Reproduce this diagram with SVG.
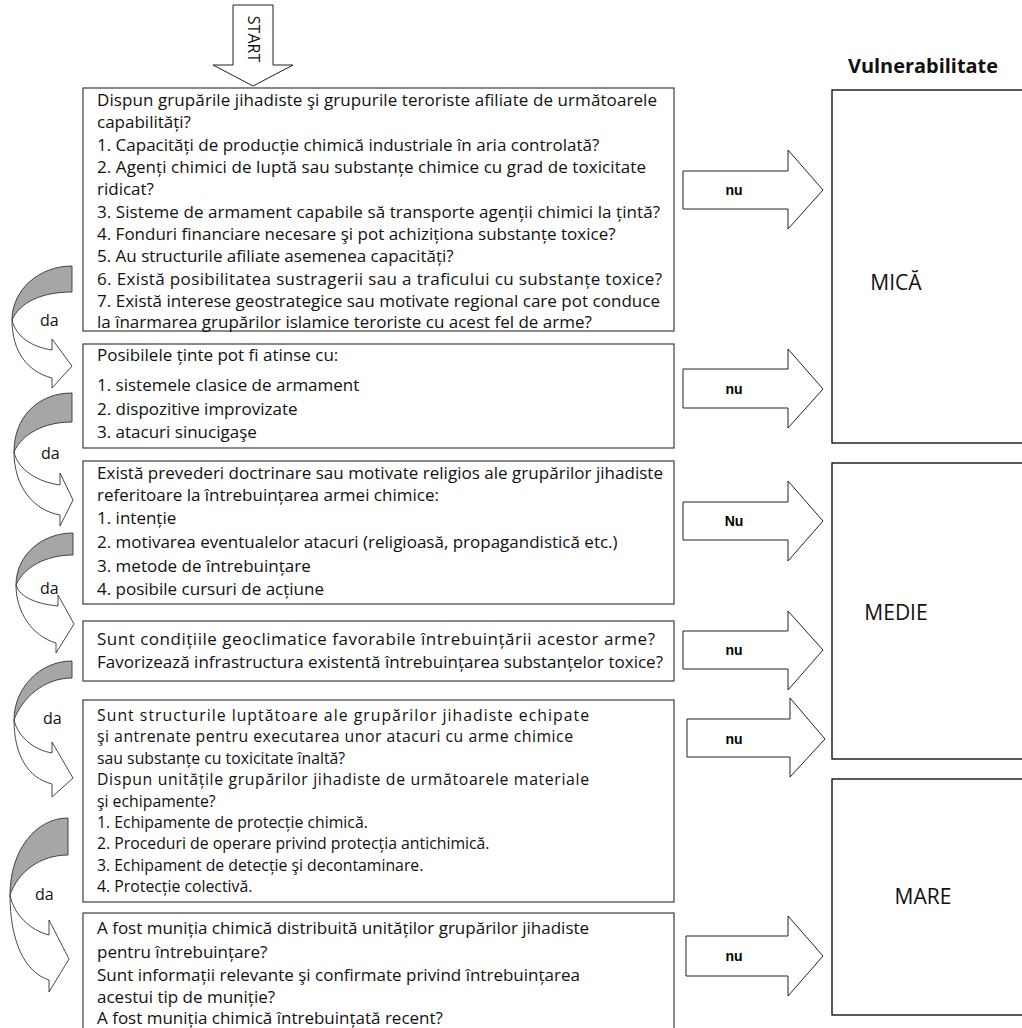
<svg xmlns="http://www.w3.org/2000/svg" width="1022" height="1028" viewBox="0 0 1022 1028">
<style>
.box{fill:#fff;stroke:#3c3c3c;stroke-width:1.2}
.vbox{fill:#fff;stroke:#000;stroke-width:1.3}
.t{font-family:"Open Sans","Noto Sans",sans-serif;font-size:17px;fill:#111}
.s{font-size:15.8px}
.da{font-family:"Open Sans","Noto Sans",sans-serif;font-size:16px;fill:#111}
.big{font-family:"Open Sans","Noto Sans",sans-serif;font-size:21px;fill:#111;text-anchor:middle}
.hdr{font-family:"Open Sans","Noto Sans",sans-serif;font-size:19px;font-weight:bold;fill:#111}
.blk{fill:#fff;stroke:#222;stroke-width:1}
.nu{font-family:"Liberation Sans",Arial,sans-serif;font-size:14px;font-weight:bold;fill:#000;text-anchor:middle}
.back{fill:#a6a6a6;stroke:#333;stroke-width:0.9}
.front{fill:#fff;stroke:#333;stroke-width:0.9}
</style>
<rect width="1022" height="1028" fill="#fff"/>

<g id="title"><text class="hdr" x="848" y="73" textLength="150" lengthAdjust="spacingAndGlyphs">Vulnerabilitate</text></g>

<g id="start">
<polygon class="blk" points="233,5 273,5 273,65 293,65 253,86 213,65 233,65"/>
<text class="da" transform="translate(248,39) rotate(90)" text-anchor="middle">START</text>
</g>

<g id="mica"><rect class="vbox" x="832" y="90" width="200" height="353"/><text class="big" x="896" y="290">MICĂ</text></g>
<g id="medie"><rect class="vbox" x="832" y="463" width="200" height="296"/><text class="big" x="896" y="620">MEDIE</text></g>
<g id="mare"><rect class="vbox" x="832" y="779" width="200" height="236"/><text class="big" x="923" y="904">MARE</text></g>

<g id="q1">
<rect class="box" x="83" y="88" width="591" height="243"/>
<text class="t" x="97" y="106" textLength="560" lengthAdjust="spacing">Dispun grupările jihadiste şi grupurile teroriste afiliate de următoarele</text>
<text class="t" x="97" y="128">capabilități?</text>
<text class="t" x="97" y="151">1. Capacități de producție chimică industriale în aria controlată?</text>
<text class="t" x="97" y="173" textLength="549" lengthAdjust="spacing">2. Agenți chimici de luptă sau substanțe chimice cu grad de toxicitate</text>
<text class="t" x="97" y="195">ridicat?</text>
<text class="t" x="97" y="218" textLength="563" lengthAdjust="spacing">3. Sisteme de armament capabile să transporte agenții chimici la țintă?</text>
<text class="t" x="97" y="240">4. Fonduri financiare necesare şi pot achiziționa substanțe toxice?</text>
<text class="t" x="97" y="262">5. Au structurile afiliate asemenea capacități?</text>
<text class="t" x="97" y="285" textLength="565" lengthAdjust="spacing">6. Există posibilitatea sustragerii sau a traficului cu substanțe toxice?</text>
<text class="t" x="97" y="307" textLength="563" lengthAdjust="spacing">7. Există interese geostrategice sau motivate regional care pot conduce</text>
<text class="t" x="97" y="328">la înarmarea grupărilor islamice teroriste cu acest fel de arme?</text>
</g>

<g id="q2">
<rect class="box" x="83" y="344" width="591" height="104"/>
<text class="t" x="97" y="361">Posibilele ținte pot fi atinse cu:</text>
<text class="t" x="97" y="391">1. sistemele clasice de armament</text>
<text class="t" x="97" y="415">2. dispozitive improvizate</text>
<text class="t" x="97" y="438">3. atacuri sinucigaşe</text>
</g>

<g id="q3">
<rect class="box" x="83" y="461" width="591" height="143"/>
<text class="t" x="97" y="479" textLength="566" lengthAdjust="spacing">Există prevederi doctrinare sau motivate religios ale grupărilor jihadiste</text>
<text class="t" x="97" y="501">referitoare la întrebuințarea armei chimice:</text>
<text class="t" x="97" y="524">1. intenție</text>
<text class="t" x="97" y="548">2. motivarea eventualelor atacuri (religioasă, propagandistică etc.)</text>
<text class="t" x="97" y="572">3. metode de întrebuințare</text>
<text class="t" x="97" y="595">4. posibile cursuri de acțiune</text>
</g>

<g id="q4">
<rect class="box" x="83" y="621" width="591" height="60"/>
<text class="t" x="97" y="645" textLength="558" lengthAdjust="spacing">Sunt condițiile geoclimatice favorabile întrebuințării acestor arme?</text>
<text class="t" x="97" y="668" textLength="566" lengthAdjust="spacing">Favorizează infrastructura existentă întrebuințarea substanțelor toxice?</text>
</g>

<g id="q5">
<rect class="box" x="83" y="700" width="591" height="202"/>
<text class="t s" x="97" y="721" textLength="492" lengthAdjust="spacing">Sunt structurile luptătoare ale grupărilor jihadiste echipate</text>
<text class="t s" x="97" y="742.4" textLength="476" lengthAdjust="spacing">şi antrenate pentru executarea unor atacuri cu arme chimice</text>
<text class="t s" x="97" y="763.8">sau substanțe cu toxicitate înaltă?</text>
<text class="t s" x="97" y="785.2" textLength="492" lengthAdjust="spacing">Dispun unitățile grupărilor jihadiste de următoarele materiale</text>
<text class="t s" x="97" y="806.6">şi echipamente?</text>
<text class="t s" x="97" y="828">1. Echipamente de protecție chimică.</text>
<text class="t s" x="97" y="849.4">2. Proceduri de operare privind protecția antichimică.</text>
<text class="t s" x="97" y="870.8">3. Echipament de detecție şi decontaminare.</text>
<text class="t s" x="97" y="892.2">4. Protecție colectivă.</text>
</g>

<g id="q6">
<rect class="box" x="83" y="913" width="591" height="130"/>
<text class="t" x="97" y="934">A fost muniția chimică distribuită unităților grupărilor jihadiste</text>
<text class="t" x="97" y="958">pentru întrebuințare?</text>
<text class="t" x="97" y="981">Sunt informații relevante şi confirmate privind întrebuințarea</text>
<text class="t" x="97" y="1003">acestui tip de muniție?</text>
<text class="t" x="97" y="1024">A fost muniția chimică întrebuințată recent?</text>
</g>

<g id="connectors">
<g id="no-arrows">
<polygon class="blk" points="683,171 788,171 788,150 823,190 788,229 788,209 683,209"/>
<text class="nu" x="734" y="195">nu</text>
<polygon class="blk" points="683,369 788,369 788,349 823,389 788,428 788,408 683,408"/>
<text class="nu" x="734" y="394">nu</text>
<polygon class="blk" points="683,502 788,502 788,481 823,521 788,561 788,540 683,540"/>
<text class="nu" x="734" y="526">Nu</text>
<polygon class="blk" points="683,631 788,631 788,611 823,650 788,690 788,669 683,669"/>
<text class="nu" x="734" y="655">nu</text>
<polygon class="blk" points="687,719 790,719 790,698 825,739 790,777 790,757 687,757"/>
<text class="nu" x="734" y="744">nu</text>
<polygon class="blk" points="686,936 788,936 788,916 823,956 788,996 788,976 686,976"/>
<text class="nu" x="734" y="961">nu</text>
</g>
<g id="yes-arrows">
<path class="back" d="M72,266 C39,266 12,290 12,320 C20,302 42,292 72,292 Z"/>
<path class="front" d="M12,320 C16,337 32,347 52,350 L52,339 L72,366 L52,388 L52,378 C28,372 12,352 12,320 Z"/>
<text class="da" x="40" y="326">da</text>
<path class="back" d="M72,393 C39,393 14,416 14,452 C22,434 44,422 72,422 Z"/>
<path class="front" d="M14,452 C18,470 38,482 60,485 L60,473 L73,500 L60,526 L60,515 C32,510 14,485 14,452 Z"/>
<text class="da" x="41" y="459">da</text>
<path class="back" d="M73,533 C42,533 16,555 16,585 C24,567 46,555 73,555 Z"/>
<path class="front" d="M16,585 C20,598 38,604 58,606 L58,595 L74,624 L56,653 L56,643 C32,636 16,612 16,585 Z"/>
<text class="da" x="40" y="594">da</text>
<path class="back" d="M72,661 C40,661 14,688 14,720 C22,698 44,678 72,678 Z"/>
<path class="front" d="M14,720 C18,737 34,750 52,753 L52,742 L73,778 L52,797 L52,784 C28,778 14,755 14,720 Z"/>
<text class="da" x="43" y="724">da</text>
<path class="back" d="M68,818 C36,818 10,850 10,895 C18,872 40,855 68,855 Z"/>
<path class="front" d="M10,895 C14,915 30,930 49,935 L49,920 L69,959 L49,992 L49,980 C24,972 10,940 10,895 Z"/>
<text class="da" x="35" y="900">da</text>
</g>
</g>
</svg>
